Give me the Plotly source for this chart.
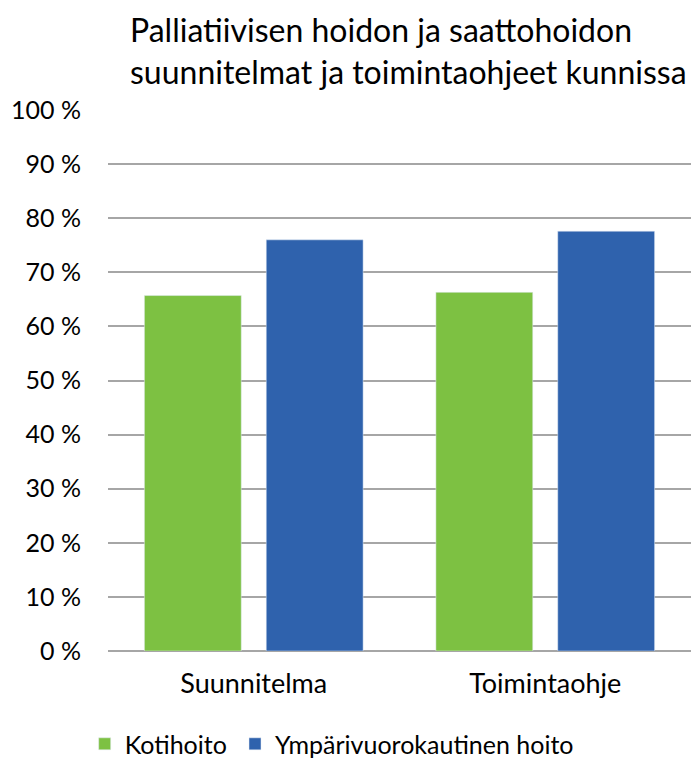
import plotly.graph_objects as go

categories = ["Suunnitelma", "Toimintaohje"]
kotihoito = [65.7, 66.3]
ymparivuorokautinen = [76.0, 77.6]
tick_vals = [0, 10, 20, 30, 40, 50, 60, 70, 80, 90, 100]
tick_text = [f"{v} %" for v in tick_vals]
title_text = "Palliatiivisen hoidon ja saattohoidon<br>suunnitelmat ja toimintaohjeet kunnissa"

FONT = "Lato, 'Open Sans', sans-serif"

fig = go.Figure()
fig.add_trace(go.Bar(name="Kotihoito", x=categories, y=kotihoito, marker_color="#7DC142",
                     legend="legend"))
fig.add_trace(go.Bar(name="Ympärivuorokautinen hoito", x=categories, y=ymparivuorokautinen,
                     marker_color="#2F62AD", legend="legend2"))

leg_common = dict(orientation="h", xanchor="left", y=-0.172, yanchor="middle",
                  font=dict(size=25, color="#000000"), itemwidth=30, bgcolor="rgba(0,0,0,0)")

fig.update_layout(
    width=691, height=760,
    margin=dict(l=108, r=0, t=110, b=109, autoexpand=False),
    paper_bgcolor="white", plot_bgcolor="white",
    barmode="group", bargap=0.164, bargroupgap=0.205,
    font=dict(family=FONT, color="#000000"),
    showlegend=True,
    legend=dict(x=-0.04, **leg_common),
    legend2=dict(x=(250 - 108 - 15) / 583, **leg_common),
)
fig.add_annotation(text=title_text, xref="paper", yref="paper",
                   x=(128 - 108) / 583, y=1 + (110 - 8) / 541,
                   xanchor="left", yanchor="top", align="left", showarrow=False,
                   font=dict(family=FONT, size=32, color="#000000"))
fig.update_yaxes(range=[0, 100], tickvals=tick_vals, ticktext=tick_text,
                 showgrid=True, gridcolor="#A6A6A6", gridwidth=2,
                 zeroline=True, zerolinecolor="#A6A6A6", zerolinewidth=2,
                 tickfont=dict(size=25, color="#000000"), ticks="", ticklabelstandoff=26)
fig.update_xaxes(showgrid=False, showline=False, ticks="",
                 tickfont=dict(size=27, color="#000000"), ticklabelstandoff=14)

fig.write_html("out.html", config={"displayModeBar": False},
               post_script="document.body.style.margin='0';")
